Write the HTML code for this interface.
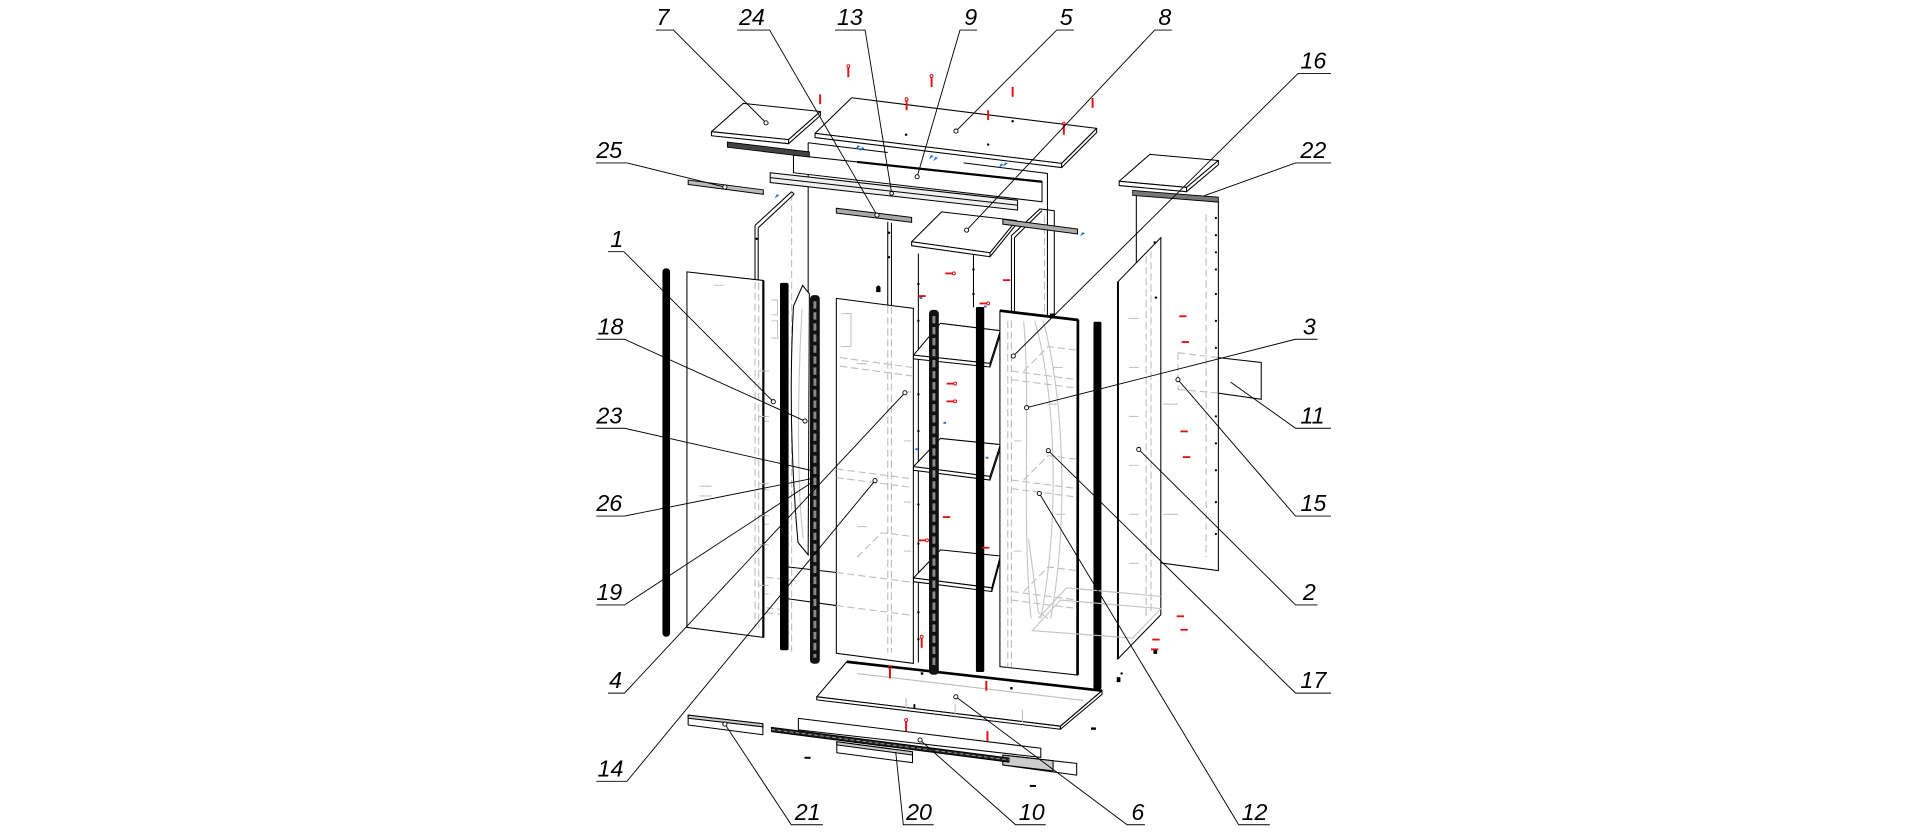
<!DOCTYPE html>
<html><head><meta charset="utf-8"><style>
html,body{margin:0;padding:0;background:#fff;}
svg{display:block;}
text{font-family:"Liberation Sans",sans-serif;font-style:italic;font-size:19px;fill:#000;}
</style></head><body>
<svg xmlns="http://www.w3.org/2000/svg" width="1920" height="834" viewBox="0 0 1568 681">
<rect width="1568" height="681" fill="#fff"/>

<!-- ===== hidden gray lines ===== -->
<g stroke="#bdbdbd" stroke-width="0.9" fill="none" stroke-dasharray="6 3">
  <path d="M616.6,230V512 M619.6,231V513 M646.5,158V532"/>
  <path d="M725,250V533 M728,250V533"/>
  <path d="M823,262V545 M826,262V545 M853,176V258"/>
  <path d="M683,467.5L745,475.5 M683,494.5L745,502.5 M700,455L720,435L745,438 M683,460L705,440"/>
  <path d="M686,292L745,300 M686,299L745,307 M700,290L718,272L745,275"/>
  <path d="M683,383L745,391 M683,390L745,398"/>
  <path d="M590,492L612,470L650,474 M590,492L640,498 M590,496L640,502"/>
  <path d="M826,303L880,310 M826,310L880,317 M836,303L856,283L880,286"/>
  <path d="M826,392L880,399 M826,399L880,406 M836,392L856,372L880,375"/>
  <path d="M826,483L880,490 M826,490L880,497 M836,483L856,463L880,466"/>
  <path d="M940,240V500 M936,236V504"/>
  <path d="M962,288L995,292 M962,318L995,321 M962,288V318"/>
  <path d="M700,548L890,571 M705,556L885,578"/>
</g>
<g stroke="#c4c4c4" stroke-width="0.9" fill="none">
  <path d="M843,515L866,490L948,497L925,521Z M848,505L871,480L948,487"/>
  <path d="M845,262C862,320 866,420 850,505 M852,262C870,330 872,430 858,505 M836,262C842,330 834,420 842,505"/>
  <path d="M619,303h9 M619,340h9 M619,344h9 M619,395h9 M619,400h9 M619,421h9 M619,428h9 M619,445h9 M619,478h9 M619,485h9"/>
  <path d="M571,397h10 M571,405h10 M583,233h8 M700,297h8 M700,430h8 M860,300h8 M862,420h8 M855,330h8"/>
  <path d="M687,256h8v27h-8 M630,245h5v12h-5 M630,262h5v14h-5"/>
  <path d="M655,250C650,320 650,400 656,440 M659,245C656,330 656,400 659,445"/>
  <path d="M940,260h8 M940,300h8 M940,340h8 M940,380h8 M940,420h8 M940,460h8"/>
</g>

<!-- ===== back structure ===== -->
<g stroke="#000" stroke-width="0.85" fill="none">
  <path d="M660,116.5L725,124.5 M787,133L855.4,141.6V258 M660,116.5V241"/>
  <path d="M725,181V249 M728,182V249 M750,207V541 M795,208V251"/>
  <path d="M826,192.4L849.2,170.6L861,172V259 M828.5,194L851,172 M826,192.4V254 M828.5,194V254"/>
</g>

<!-- plank 9 -->
<polygon points="648,126.6 851,148.4 851,164.7 648,141" fill="#fff" stroke="#000" stroke-width="0.85"/>
<line x1="700" y1="132.2" x2="851" y2="148.4" stroke="#000" stroke-width="1.8"/>

<!-- panel 5 & 7 -->
<g fill="#fff" stroke="#000" stroke-width="0.85" stroke-linejoin="round">
  <polygon points="665.6,108.9 695.5,79.8 895.6,104.8 867,133.4"/>
  <polygon points="665.6,108.9 867,133.4 867,136.8 665.6,112.3"/>
  <polygon points="867,133.4 895.6,104.8 895.6,108.2 867,136.8"/>
  <polygon points="581,107.5 607,84.4 670,91 644,114"/>
  <polygon points="581,107.5 644,114 644,117.3 581,110.8"/>
  <polygon points="644,114 670,91 670,94.3 644,117.3"/>
</g>
<polygon points="594,116 661,124 661,128.2 594,120.2" fill="#444" stroke="#000" stroke-width="0.7"/>
<polygon points="562,147 623.4,155 623.4,158.6 562,150.6" fill="#bbb" stroke="#000" stroke-width="0.8"/>
<polygon points="629,141 831,163.5 831,171.5 629,149" fill="#f0f0f0" stroke="#000" stroke-width="0.85"/>
<line x1="629" y1="145" x2="831" y2="167.5" stroke="#000" stroke-width="0.8"/>
<polygon points="683,170 744.5,177.5 744.5,181.5 683,174" fill="#aaa" stroke="#000" stroke-width="0.8"/>

<!-- panel 8 -->
<g fill="#fff" stroke="#000" stroke-width="0.85" stroke-linejoin="round">
  <polygon points="744.5,197.4 769,173 830,180 808.5,206.4"/>
  <polygon points="744.5,197.4 808.5,206.4 808.5,209.6 744.5,200.6"/>
  <polygon points="808.5,206.4 830,180 830,183.2 808.5,209.6"/>
</g>
<polygon points="819,179 880,187 880,191 819,183" fill="#aaa" stroke="#000" stroke-width="0.8"/>

<!-- left side panel top -->
<g stroke="#000" stroke-width="0.85" fill="none">
  <path d="M616.6,184L646.5,156.5 M619.2,186L648.6,158.5 M646.5,156.5L648.6,158.5 M616.6,184V229 M619.2,186V229"/>
  <path d="M644,463L683,467.5 M644,489L683,494.5"/>
</g>

<!-- shelves -->
<g fill="#fff" stroke="#000" stroke-width="0.85" stroke-linejoin="round">
  <polygon points="746,290 768,264 817,270 808.5,296.7"/>
  <polygon points="746,290 808.5,296.7 808.5,299.7 746,293"/>
  <polygon points="808.5,296.7 817,270 817,273 808.5,299.7"/>
  <polygon points="746,381 768,358 817,363 808.5,389"/>
  <polygon points="746,381 808.5,389 808.5,392 746,384"/>
  <polygon points="808.5,389 817,363 817,366 808.5,392"/>
  <polygon points="746,472 768,449 817,454 810,480"/>
  <polygon points="746,472 810,480 810,483 746,475"/>
  <polygon points="810,480 817,454 817,457 810,483"/>
</g>

<!-- bottom panel 6 -->
<g fill="#fff" stroke="#000" stroke-width="0.85" stroke-linejoin="round">
  <polygon points="667,569 691.5,540.4 900,564 866,593"/>
  <polygon points="667,569 866,593 866,595.5 667,571.5"/>
  <polygon points="866,593 900,564 900,567 866,595.5"/>
</g>
<line x1="691.5" y1="540.4" x2="900" y2="564" stroke="#000" stroke-width="2.2"/>
<g stroke="#bdbdbd" stroke-width="0.9" fill="none"><path d="M700,550L885,572 M780,575V585 M740,570V580 M835,580V590"/></g>

<!-- plinth -->
<g stroke="#000" stroke-width="0.85" stroke-linejoin="round">
  <polygon points="562,584 623,591 623,600 562,592" fill="#fff"/>
  <polygon points="562,584 623,591 623,593.5 562,586.5" fill="#ccc"/>
  <polygon points="652,586.6 850,611 850,618.5 652,596" fill="#fff"/>
  <polygon points="683.4,605.7 745.2,613.9 745.2,622.8 683.4,614.7" fill="#fff"/>
  <polygon points="683.4,605.7 745.2,613.9 745.2,616.5 683.4,608.3" fill="#ccc"/>
  <polygon points="819,616.6 879.3,623.4 879.3,633 819,624.7" fill="#fff"/>
  <polygon points="819,616.6 860,621.2 860,629.5 819,624.7" fill="#ccc"/>
  <polygon points="630,594 824,619 824,622.3 630,597.4" fill="#222"/>
</g>
<line x1="630" y1="595.7" x2="824" y2="620.6" stroke="#999" stroke-width="0.8" stroke-dasharray="3 2"/>
<g fill="#000">
  <rect x="657" y="618" width="5" height="1.6"/><rect x="841" y="641" width="5" height="1.6"/>
  <rect x="891" y="594" width="4" height="2"/><rect x="912" y="553" width="3" height="4"/>
  <rect x="942" y="530" width="3" height="4"/><rect x="752" y="549" width="2" height="2"/>
  <rect x="825" y="561" width="2" height="2"/><rect x="746" y="575" width="1.5" height="4"/>
</g>

<!-- door 4, bars -->
<rect x="541" y="219" width="6.2" height="301" rx="3" fill="#000"/>
<polygon points="561,222 623.4,229 623.4,520.5 561,512.3" fill="#fff" stroke="#000" stroke-width="0.85"/>
<line x1="623.4" y1="229" x2="623.4" y2="520.5" stroke="#000" stroke-width="1.8"/>
<g stroke="#bdbdbd" stroke-width="0.9" fill="none" stroke-dasharray="6 3"><path d="M616.6,230V512 M619.6,231V513"/></g>
<g stroke="#c4c4c4" stroke-width="0.9" fill="none"><path d="M619,303h5 M619,340h5 M619,395h5 M619,421h5 M619,445h5 M619,478h5 M571,397h10 M571,405h10 M583,233h8"/></g>
<rect x="637" y="231" width="7" height="300" rx="1.5" fill="#000"/>
<path d="M655.5,233L648,250Q643,345 651.7,443L660,453L661,240Z" fill="#fff" stroke="#000" stroke-width="0.85"/>
<path d="M655,252C651,320 651,400 656,440" stroke="#c4c4c4" stroke-width="0.9" fill="none"/>
<rect x="661.5" y="241" width="8" height="301" rx="3" fill="#111"/>
<line x1="665.5" y1="246" x2="665.5" y2="537" stroke="#8a8a8a" stroke-width="2.4" stroke-dasharray="6 3"/>

<!-- door 14 -->
<polygon points="683,243.6 745.9,251.8 745.9,541.7 683,533.5" fill="#fff" stroke="#000" stroke-width="0.85"/>
<g stroke="#bdbdbd" stroke-width="0.9" fill="none" stroke-dasharray="6 3">
  <path d="M725,250V533 M728,250V533 M683,467.5L745,475.5 M683,494.5L745,502.5 M700,455L720,435L745,438 M686,292L745,300 M686,299L745,307 M683,383L745,391 M683,390L745,398"/>
</g>
<g stroke="#c4c4c4" stroke-width="0.9" fill="none"><path d="M687,256h8v27h-8 M700,297h8 M700,430h8 M738,320h6 M738,360h6 M738,410h6 M738,450h6"/></g>
<path d="M715.5,234.5q1.8,-3 3.6,0l0,4h-3.6z" fill="#000"/>

<rect x="758.7" y="253" width="8" height="298" rx="3" fill="#111"/>
<line x1="762.7" y1="258" x2="762.7" y2="546" stroke="#8a8a8a" stroke-width="2.4" stroke-dasharray="6 3"/>
<rect x="797" y="250.7" width="6.8" height="298" rx="1" fill="#000"/>

<!-- mirror door -->
<polygon points="816.6,253.7 880.6,261.3 880,551.2 816.6,544.4" fill="#fff" stroke="#000" stroke-width="0.85"/>
<g stroke="#bdbdbd" stroke-width="0.9" fill="none" stroke-dasharray="6 3">
  <path d="M823,262V545 M826,262V545 M826,303L880,310 M826,310L880,317 M836,303L856,283L880,286 M826,392L880,399 M826,399L880,406 M836,392L856,372L880,375 M826,483L880,490 M826,490L880,497 M836,483L856,463L880,466"/>
</g>
<g stroke="#c4c4c4" stroke-width="0.9" fill="none">
  <path d="M845,262C862,320 866,420 850,505 M852,262C870,330 872,430 858,505 M836,262C842,330 834,420 842,505 M840,440L848,500L856,505 M860,300h8 M862,420h8 M855,330h8 M828,360h6 M828,450h6"/>
</g>
<line x1="816.6" y1="253.7" x2="880.6" y2="261.3" stroke="#000" stroke-width="2.2"/>
<line x1="880.3" y1="261.3" x2="880" y2="551.2" stroke="#000" stroke-width="2.2"/>
<rect x="857.5" y="256" width="4" height="4" fill="#000"/>
<rect x="893" y="262.7" width="6.5" height="300" rx="1" fill="#000"/>

<!-- right side -->
<polygon points="928,158 995,165 995,466 928,457" fill="#fff" stroke="#000" stroke-width="0.85"/>
<g stroke="#bdbdbd" stroke-width="0.9" fill="none" stroke-dasharray="6 3">
  <path d="M962,288L995,292 M962,318L995,321 M962,288V318 M985,175V455"/>
</g>
<polygon points="913,230 948,194 948,502 913,538" fill="#fff" stroke="#000" stroke-width="0.85"/>
<line x1="913" y1="230" x2="913" y2="538" stroke="#000" stroke-width="1.6"/>
<g stroke="#bdbdbd" stroke-width="0.9" fill="none" stroke-dasharray="6 3"><path d="M940,205V500 M936,209V504"/></g>
<g stroke="#c4c4c4" stroke-width="0.9" fill="none">
  <path d="M843,515L866,490L948,497L925,521Z M848,505L871,480L948,487"/>
  <path d="M922,260h8 M922,300h8 M922,340h8 M922,380h8 M922,420h8 M922,460h8 M950,330h12 M950,420h12"/>
</g>
<polygon points="995,292 1030,296 1030,326 995,321" fill="#fff" stroke="#000" stroke-width="0.85"/>
<g fill="#fff" stroke="#000" stroke-width="0.85" stroke-linejoin="round">
  <polygon points="914,148 939,126 995,131 969,153"/>
  <polygon points="914,148 969,153 969,156.5 914,151.5"/>
  <polygon points="969,153 995,131 995,134.5 969,156.5"/>
</g>
<polygon points="925,155.5 995,161 995,165 925,159.5" fill="#777" stroke="#000" stroke-width="0.7"/>
<g fill="#000">
  <circle cx="993" cy="178" r="0.9"/><circle cx="993" cy="192" r="0.9"/><circle cx="993" cy="206" r="0.9"/><circle cx="993" cy="220" r="0.9"/>
  <circle cx="993" cy="240" r="0.9"/><circle cx="993" cy="262" r="0.9"/><circle cx="993" cy="284" r="0.9"/><circle cx="993" cy="340" r="0.9"/>
  <circle cx="993" cy="362" r="0.9"/><circle cx="993" cy="384" r="0.9"/><circle cx="993" cy="410" r="0.9"/><circle cx="993" cy="436" r="0.9"/>
  <circle cx="750" cy="232" r="1"/><circle cx="750" cy="262" r="1"/><circle cx="750" cy="322" r="1"/><circle cx="750" cy="352" r="1"/>
  <circle cx="750" cy="412" r="1"/><circle cx="750" cy="444" r="1"/><circle cx="750" cy="500" r="1"/><circle cx="750" cy="522" r="1"/>
  <circle cx="795" cy="220" r="1"/><circle cx="795" cy="240" r="1"/><circle cx="726" cy="190" r="1"/><circle cx="726" cy="210" r="1"/>
  <circle cx="740" cy="110" r="1"/><circle cx="807" cy="118" r="1"/><circle cx="827" cy="99" r="1"/><circle cx="618" cy="195" r="1"/>
  <circle cx="916" cy="550" r="1"/><circle cx="943" cy="198" r="1"/><circle cx="944" cy="243" r="1"/>
</g>

<!-- red marks -->
<g fill="#e01010">
  <rect x="692" y="55" width="1.6" height="8"/><rect x="760" y="63" width="1.6" height="8"/>
  <rect x="669" y="77" width="1.6" height="8"/><rect x="739.6" y="82" width="1.6" height="8"/>
  <rect x="826.2" y="71" width="1.6" height="8"/><rect x="806.2" y="90" width="1.6" height="8"/>
  <rect x="868" y="102" width="1.6" height="8"/><rect x="891.5" y="80" width="1.6" height="8"/>
  <rect x="751.9" y="521" width="1.6" height="8"/><rect x="726" y="546" width="1.6" height="8"/>
  <rect x="804.7" y="556" width="1.6" height="8"/><rect x="739.2" y="589" width="1.6" height="8"/>
  <rect x="805.6" y="597" width="1.6" height="8"/>
  <rect x="772" y="222.5" width="6" height="1.5"/><rect x="819" y="228" width="6" height="1.5"/>
  <rect x="750" y="241" width="6" height="1.5"/><rect x="800" y="247" width="6" height="1.5"/>
  <rect x="773" y="312.5" width="6" height="1.5"/><rect x="773" y="327" width="6" height="1.5"/>
  <rect x="770" y="421.5" width="6" height="1.5"/><rect x="750" y="440.5" width="6" height="1.5"/>
  <rect x="802" y="446.5" width="6" height="1.5"/>
  <rect x="963" y="257.5" width="6" height="1.5"/><rect x="965" y="278.5" width="6" height="1.5"/>
  <rect x="964" y="351.5" width="6" height="1.5"/><rect x="966" y="372.5" width="6" height="1.5"/>
  <rect x="961" y="502.5" width="6" height="1.5"/><rect x="964" y="513.5" width="6" height="1.5"/>
  <rect x="941" y="521.5" width="6" height="1.5"/><rect x="940" y="529.5" width="6" height="1.5"/>
</g>
<g fill="none" stroke="#e01010" stroke-width="0.8">
  <circle cx="692.8" cy="54" r="1.2"/><circle cx="760.8" cy="62" r="1.2"/><circle cx="740.4" cy="81" r="1.2"/>
  <circle cx="868.8" cy="101" r="1.2"/><circle cx="752.7" cy="520" r="1.2"/><circle cx="726.8" cy="545" r="1.2"/>
  <circle cx="740" cy="588" r="1.2"/><circle cx="779" cy="223.2" r="1.2"/><circle cx="807" cy="247.7" r="1.2"/>
  <circle cx="780" cy="313.2" r="1.2"/><circle cx="780" cy="327.7" r="1.2"/><circle cx="757" cy="441.2" r="1.2"/>
</g>
<g fill="#1e6fe0">
  <path d="M632.5,162l2,-3.5l2,1z"/><path d="M698.5,122l2,-3.5l2,1z M702,123.5l2,-3.5l2,1z"/>
  <path d="M758.5,130l2,-3.5l2,1z M762,131.5l2,-3.5l2,1z"/><path d="M815.5,137l2,-3.5l2,1z M819,136l2,-3.5l2,1z"/>
  <path d="M882,193l2,-3.5l2,1z"/>
  <rect x="751" y="242.5" width="2.2" height="1.6"/><rect x="770.5" y="344.5" width="2.2" height="1.6"/>
  <rect x="747.5" y="366" width="2.2" height="1.6"/><rect x="805" y="373" width="2.2" height="1.6"/>
  <rect x="803.5" y="249.5" width="2.2" height="1.6"/>
</g>

<!-- ===== leaders ===== -->
<g stroke="#000" stroke-width="0.75" fill="none">
  <path d="M535.5,24.5H550L625.6,100.3"/>
  <path d="M602,24.5H628.5L716.2,175.6"/>
  <path d="M682,24.5H706.5L728.2,157.9"/>
  <path d="M798,24.5H784L749,144.3"/>
  <path d="M877,24.5H863L780.7,107"/>
  <path d="M957,24.5H943L789.4,187.9"/>
  <path d="M1087,60H1060L827.5,290.7"/>
  <path d="M1087,133H1058L983,160"/>
  <path d="M1076,277H1058L838.4,332.9"/>
  <path d="M1087,349.7H1058L1005,312"/>
  <path d="M1087,421.4H1058L962,310"/>
  <path d="M1076,494H1058L930,367"/>
  <path d="M1087,566H1058L856.1,368"/>
  <path d="M1037,673.5H1011.6L848.8,402.9"/>
  <path d="M935,673.5H920.5L780.6,569"/>
  <path d="M854,673.5H829.4L751.4,604.3"/>
  <path d="M762.5,673.5H737.7L731.5,614"/>
  <path d="M672,673.5H646.2L592,591.3"/>
  <path d="M486.7,133H512L592,152.7"/>
  <path d="M496.6,205.5H509.6L631.5,328"/>
  <path d="M487,277H510L657.4,343.8"/>
  <path d="M487,349.7H510L664,384.5"/>
  <path d="M487,421.4H510L664,390.6"/>
  <path d="M487,494H510L664,393.3"/>
  <path d="M496.6,566H510L739,320.7"/>
  <path d="M487,638H512L714.6,392.5"/>
</g>
<g fill="#fff" stroke="#000" stroke-width="0.75">
  <circle cx="625.6" cy="100.3" r="1.7"/><circle cx="716.2" cy="175.6" r="1.7"/><circle cx="749" cy="144.3" r="1.7"/>
  <circle cx="780.7" cy="107" r="1.7"/><circle cx="789.4" cy="187.9" r="1.7"/><circle cx="827.5" cy="290.7" r="1.7"/>
  <circle cx="838.4" cy="332.9" r="1.7"/><circle cx="962" cy="310" r="1.7"/><circle cx="930" cy="367" r="1.7"/>
  <circle cx="856.1" cy="368" r="1.7"/><circle cx="848.8" cy="402.9" r="1.7"/><circle cx="780.6" cy="569" r="1.7"/>
  <circle cx="751.4" cy="604.3" r="1.7"/><circle cx="592" cy="591.3" r="1.7"/><circle cx="592" cy="152.7" r="1.7"/>
  <circle cx="631.5" cy="328" r="1.7"/><circle cx="657.4" cy="343.8" r="1.7"/><circle cx="739" cy="320.7" r="1.7"/>
  <circle cx="714.6" cy="392.5" r="1.7"/><circle cx="728.2" cy="157.9" r="1.5"/>
</g>

<!-- ===== labels ===== -->
<text x="536" y="20.5">7</text>
<text x="603.5" y="20.5">24</text>
<text x="683.5" y="20.5">13</text>
<text x="787.5" y="20.5">9</text>
<text x="865.5" y="20.5">5</text>
<text x="946" y="20.5">8</text>
<text x="487" y="129">25</text>
<text x="498.5" y="201.5">1</text>
<text x="488" y="273">18</text>
<text x="487" y="345.7">23</text>
<text x="487" y="417.4">26</text>
<text x="487" y="490">19</text>
<text x="497.5" y="562">4</text>
<text x="488" y="634">14</text>
<text x="1062" y="56">16</text>
<text x="1062" y="129">22</text>
<text x="1064" y="273">3</text>
<text x="1062" y="345.7">11</text>
<text x="1062" y="417.4">15</text>
<text x="1064" y="490">2</text>
<text x="1062" y="562">17</text>
<text x="649" y="669.5">21</text>
<text x="740" y="669.5">20</text>
<text x="832" y="669.5">10</text>
<text x="924" y="669.5">6</text>
<text x="1014" y="669.5">12</text>
</svg>
</body></html>
